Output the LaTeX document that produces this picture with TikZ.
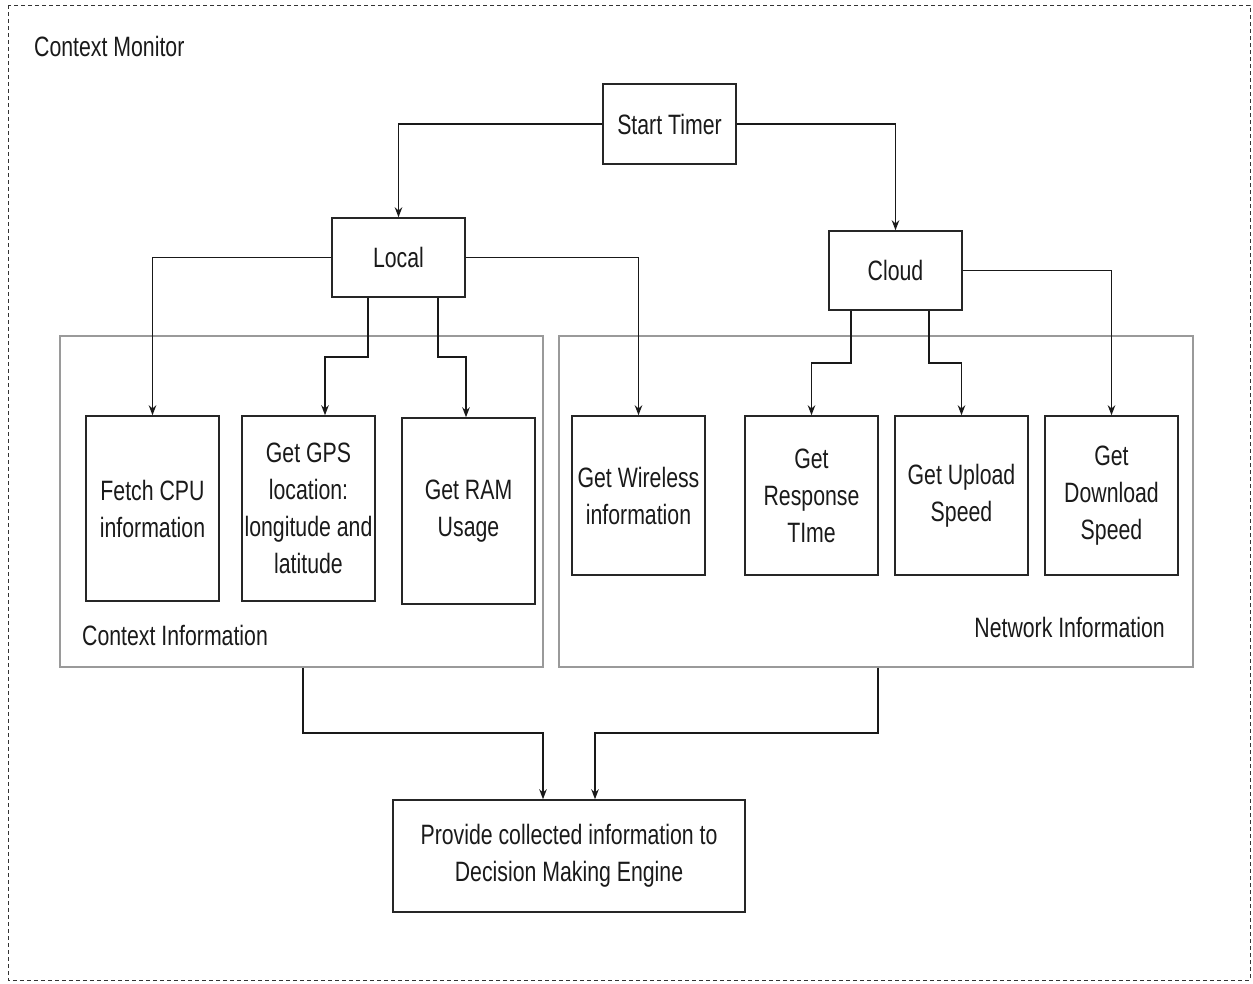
\documentclass[tikz,border=0pt]{standalone}
\usepackage{fontspec}
\setmainfont{Liberation Sans}[FakeStretch=0.76]
\usetikzlibrary{arrows.meta,calc}
\definecolor{txt}{HTML}{1A1A1A}
\definecolor{grp}{HTML}{9A9A9A}
\begin{document}
\begin{tikzpicture}[x=1pt,y=-1pt,
  every node/.style={font=\fontsize{28}{37}\selectfont, text=txt},
  boxnode/.style={draw=black!85, line width=1.5pt, rectangle, align=center, inner sep=0pt, minimum width=133pt},
  grpnode/.style={draw=grp, line width=1.2pt, rectangle, inner sep=0pt},
  arr/.style={draw=black!90, line width=1.6pt, -{Stealth[length=10pt,width=7.5pt]}},
  lbl/.style={inner sep=0pt}]
\useasboundingbox (0,0) rectangle (1253,983);
\draw[line width=0.9pt, dash pattern=on 4pt off 3pt, black!80] (8,5) rectangle (1250,980);
\node[lbl, anchor=west] (title) at (34,46) {Context Monitor};

\node[grpnode, minimum width=483pt, minimum height=331pt] (ctxbox) at (301.5,501.5) {};
\node[grpnode, minimum width=634pt, minimum height=331pt] (netbox) at (876,501.5) {};
\node[lbl, anchor=west] (ctxlbl) at (82,635) {Context Information};
\node[lbl, anchor=east] (netlbl) at (1165,627) {Network Information};

\node[boxnode, minimum height=80pt] (start) at (669.5,124) {Start Timer};
\node[boxnode, minimum height=79pt] (local) at (398.5,257.5) {Local};
\node[boxnode, minimum height=79pt] (cloud) at (895.5,270.5) {Cloud};

\node[boxnode, minimum height=185pt] (cpu) at (152.5,508.5) {Fetch CPU\\information};
\node[boxnode, minimum height=185pt] (gps) at (308.5,508.5) {Get GPS\\location:\\longitude and\\latitude};
\node[boxnode, minimum height=186pt] (ram) at (468.5,511) {Get RAM\\Usage};
\node[boxnode, minimum height=159pt] (wifi) at (638.5,495.5) {Get Wireless\\information};
\node[boxnode, minimum height=159pt] (resp) at (811.5,495.5) {Get\\Response\\TIme};
\node[boxnode, minimum height=159pt] (upl) at (961.5,495.5) {Get Upload\\Speed};
\node[boxnode, minimum height=159pt] (dl) at (1111.5,495.5) {Get\\Download\\Speed};
\node[boxnode, minimum width=352pt, minimum height=112pt] (prov) at (569,856) {Provide collected information to\\Decision Making Engine};

\draw[arr] (start.west) -| (local.north);
\draw[arr] (start.east) -| (cloud.north);
\draw[arr] (local.west) -| (cpu.north);
\draw[arr] (local.east) -| (wifi.north);
\draw[arr] (local.south -| 368,0) -- (368,357) -- (325,357) -- (gps.north -| 325,0);
\draw[arr] (local.south -| 438,0) -- (438,357) -- (466,357) -- (ram.north -| 466,0);
\draw[arr] (cloud.east) -| (dl.north);
\draw[arr] (cloud.south -| 851,0) -- (851,363) -- (resp.north |- 0,363) -- (resp.north);
\draw[arr] (cloud.south -| 929,0) -- (929,363) -- (upl.north |- 0,363) -- (upl.north);
\draw[arr] (ctxbox.south -| 303,0) -- (303,733) -- (543,733) -- (prov.north -| 543,0);
\draw[arr] (netbox.south -| 878,0) -- (878,733) -- (595,733) -- (prov.north -| 595,0);
\end{tikzpicture}
\end{document}
